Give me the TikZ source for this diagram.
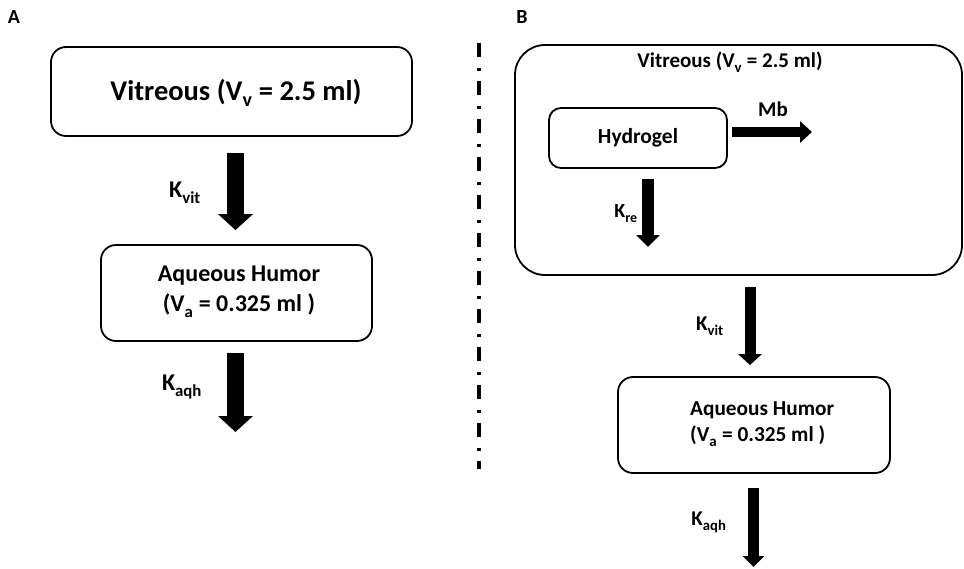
\documentclass[tikz,border=0pt]{standalone}
\usepackage{fontspec}
\setmainfont{Carlito}
\usetikzlibrary{arrows.meta}
% subscript set a little lower than the default
\newcommand\lsub[1]{\raisebox{-0.1em}{\textsubscript{#1}}}
\begin{document}
\begin{tikzpicture}[x=1pt,y=-1pt,
  box/.style={draw,line width=1.8pt,rounded corners=#1,inner sep=0pt},
  box/.default=15pt,
  txt/.style={inner sep=0pt,font=\bfseries},
  flow/.style={line width=#1,-{Triangle[length=16pt,width=34pt]}},
  flowB/.style={line width=11pt,-{Triangle[length=11pt,width=23pt]}},
  sep/.style={line width=3.5pt,dash pattern=on 14pt off 11pt on 3pt off 10pt}]
\useasboundingbox (0,0) rectangle (964,568);

% ---------- panel A ----------
\node[txt,font=\bfseries\fontsize{20}{24}\selectfont] (labA) at (14,17) {A};
\node[box,minimum width=361pt,minimum height=89pt] (vitA) at (231.5,91.5) {};
\node[txt,font=\bfseries\fontsize{28.5}{34}\selectfont] (vitAt) at (236,93) {Vitreous (V\lsub{v} = 2.5 ml)};
\node[box,minimum width=271pt,minimum height=96pt] (aqA) at (236.5,293) {};
\node[txt,font=\bfseries\fontsize{24}{30}\selectfont,align=center] (aqAt) at (239,292) {Aqueous Humor\\(V\lsub{a} = 0.325 ml )};
\coordinate (outA) at (235.5,432);
\draw[flow=17pt] ([xshift=-1pt,yshift=-16pt]aqA.north |- vitA.south) -- ([xshift=-1pt,yshift=14pt]aqA.north);
\draw[flow=17pt] ([xshift=-1pt,yshift=-11pt]aqA.south) -- (outA);
\node[txt,font=\bfseries\fontsize{24}{28}\selectfont] (kvitA) at (185,193) {K\lsub{vit}};
\node[txt,font=\bfseries\fontsize{24}{28}\selectfont] (kaqhA) at (182,387) {K\lsub{aqh}};

% ---------- divider ----------
\coordinate (sepTop) at (479,43);
\coordinate (sepBot) at (479,469);
\draw[sep] (sepTop) -- (sepBot);

% ---------- panel B ----------
\node[txt,font=\bfseries\fontsize{20}{24}\selectfont] (labB) at (522,17) {B};
\node[box=30pt,minimum width=447pt,minimum height=230pt] (vitB) at (738.5,160) {};
\node[txt,font=\bfseries\fontsize{21}{25}\selectfont] (vitBt) at (730,62) {Vitreous (V\lsub{v} = 2.5 ml)};
\node[box=12pt,minimum width=178pt,minimum height=60pt] (hyd) at (638,138) {};
\node[txt,font=\bfseries\fontsize{21.5}{25}\selectfont] (hydt) at (638,138) {Hydrogel};
\coordinate (mbEnd) at (812,132);
\draw[line width=10pt,-{Triangle[length=12pt,width=21pt]}] ([xshift=4pt]hyd.east |- mbEnd) -- (mbEnd);
\node[txt,font=\bfseries\fontsize{21}{25}\selectfont] (mb) at (773,109) {Mb};
\coordinate (reEnd) at (648,247);
\draw[line width=12pt,-{Triangle[length=12pt,width=23pt]}] ([yshift=-10pt]reEnd |- hyd.south) -- (reEnd);
\node[txt,font=\bfseries\fontsize{20}{24}\selectfont] (kre) at (626,214) {K\lsub{re}};

\node[box,minimum width=272pt,minimum height=96pt] (aqB) at (754,425) {};
\node[txt,font=\bfseries\fontsize{21.3}{26}\selectfont,align=left,anchor=west] (aqBt) at (690,424) {Aqueous Humor\\(V\lsub{a} = 0.325 ml )};
\draw[flowB] ([xshift=-4pt,yshift=-11pt]aqB.north |- vitB.south) -- ([xshift=-4pt,yshift=11pt]aqB.north);
\node[txt,font=\bfseries\fontsize{21}{25}\selectfont] (kvitB) at (710,326) {K\lsub{vit}};
\coordinate (outB) at (753.5,567);
\draw[line width=11pt,-{Triangle[length=11pt,width=21pt]}] ([yshift=-14pt]outB |- aqB.south) -- (outB);
\node[txt,font=\bfseries\fontsize{21}{25}\selectfont] (kaqhB) at (709,522) {K\lsub{aqh}};
\end{tikzpicture}
\end{document}
